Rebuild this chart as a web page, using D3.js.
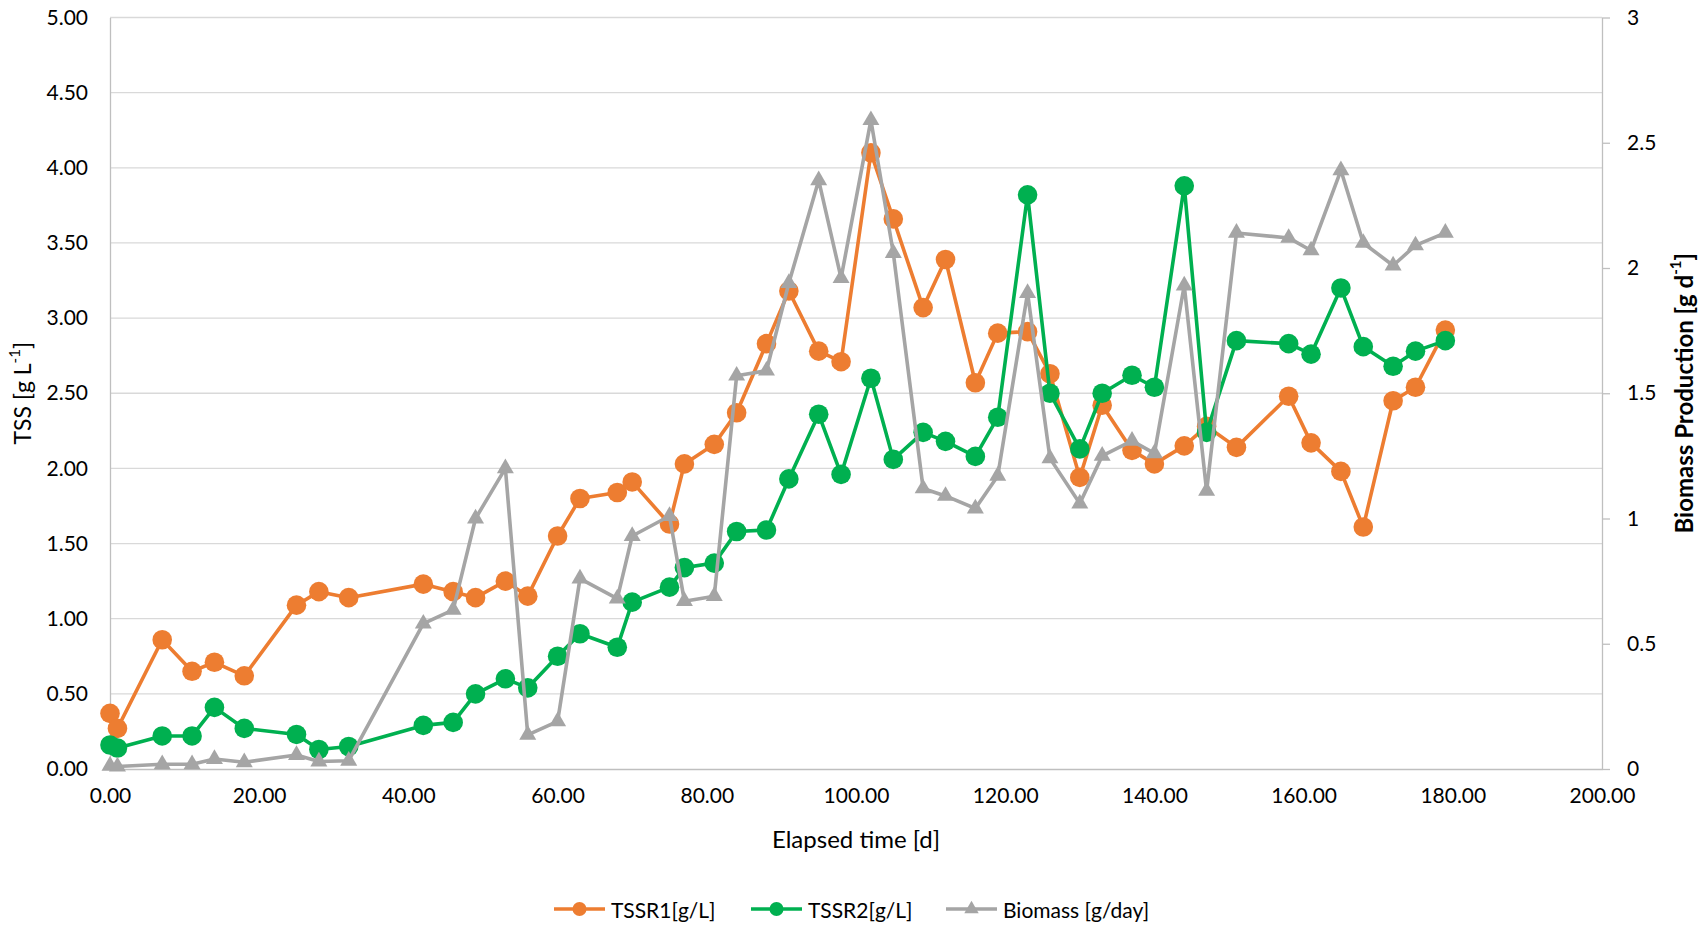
<!DOCTYPE html>
<html>
<head>
<meta charset="utf-8">
<script src="https://cdn.jsdelivr.net/npm/d3@7"></script>
<style>
  html, body { margin: 0; padding: 0; background: #ffffff; }
  svg { display: block; font-family: "Lato", "Liberation Sans", sans-serif; }
</style>
</head>
<body>
<svg id="chart" width="1701" height="925"></svg>
<script>
// ---- data ----
const days = [0,1,7,11,14,18,25,28,32,42,46,49,53,56,60,63,68,70,75,77,81,84,88,91,95,98,102,105,109,112,116,119,123,126,130,133,137,140,144,147,151,158,161,165,168,172,175,179];
const tssR1 = [0.37,0.27,0.86,0.65,0.71,0.62,1.09,1.18,1.14,1.23,1.18,1.14,1.25,1.15,1.55,1.80,1.84,1.91,1.63,2.03,2.16,2.37,2.83,3.18,2.78,2.71,4.10,3.66,3.07,3.39,2.57,2.90,2.91,2.63,1.94,2.42,2.12,2.03,2.15,2.28,2.14,2.48,2.17,1.98,1.61,2.45,2.54,2.92];
const tssR2 = [0.16,0.14,0.22,0.22,0.41,0.27,0.23,0.13,0.15,0.29,0.31,0.50,0.60,0.54,0.75,0.90,0.81,1.11,1.21,1.34,1.37,1.58,1.59,1.93,2.36,1.96,2.60,2.06,2.24,2.18,2.08,2.34,3.82,2.50,2.13,2.50,2.62,2.54,3.88,2.24,2.85,2.83,2.76,3.20,2.81,2.68,2.78,2.85];
const biomass = [0.013,0.01,0.019,0.019,0.04,0.027,0.056,0.03,0.033,0.58,0.635,1.00,1.20,0.136,0.19,0.76,0.68,0.93,1.01,0.67,0.69,1.57,1.59,1.94,2.35,1.96,2.59,2.06,1.12,1.09,1.04,1.17,1.90,1.24,1.06,1.25,1.31,1.26,1.93,1.11,2.14,2.12,2.07,2.39,2.10,2.01,2.09,2.14];

const xTicks = [0,20,40,60,80,100,120,140,160,180,200];
const yLeftTicks = [0,0.5,1,1.5,2,2.5,3,3.5,4,4.5,5];
const yRightTicks = [0,0.5,1,1.5,2,2.5,3];
const seriesNames = ["TSSR1[g/L]", "TSSR2[g/L]", "Biomass [g/day]"];
const seriesColors = ["#ED7D31", "#00B050", "#A5A5A5"];

// ---- layout ----
const svg = d3.select("#chart");
const plot = { left: 110, right: 1602, top: 17.5, bottom: 769 };
const fontSize = 21;
const titleSize = 24;

const x = d3.scaleLinear().domain([0, 200]).range([plot.left, plot.right]);
const yL = d3.scaleLinear().domain([0, 5]).range([plot.bottom, plot.top]);
const yR = d3.scaleLinear().domain([0, 3]).range([plot.bottom, plot.top]);

// gridlines
svg.append("g")
  .selectAll("line")
  .data(yLeftTicks.filter(d => d > 0))
  .join("line")
  .attr("x1", plot.left).attr("x2", plot.right)
  .attr("y1", d => yL(d)).attr("y2", d => yL(d))
  .attr("stroke", "#d9d9d9").attr("stroke-width", 1.3);

// left axis
const gL = svg.append("g").attr("transform", `translate(${plot.left},0)`)
  .call(d3.axisLeft(yL).tickValues(yLeftTicks).tickFormat(d3.format(".2f")).tickSize(0).tickPadding(22));
gL.select(".domain").attr("stroke", "#bfbfbf").attr("stroke-width", 1.3);
gL.selectAll("text").attr("font-size", fontSize).attr("fill", "#000").attr("font-family", "Lato");

// right axis
const gR = svg.append("g").attr("transform", `translate(${plot.right},0)`)
  .call(d3.axisRight(yR).tickValues(yRightTicks).tickFormat(d => String(d)).tickSizeInner(8).tickSizeOuter(0).tickPadding(17));
gR.select(".domain").attr("stroke", "#bfbfbf").attr("stroke-width", 1.3);
gR.selectAll("line").attr("stroke", "#bfbfbf").attr("stroke-width", 1.3);
gR.selectAll("text").attr("font-size", fontSize).attr("fill", "#000").attr("font-family", "Lato");

// bottom axis
const gB = svg.append("g").attr("transform", `translate(0,${plot.bottom})`)
  .call(d3.axisBottom(x).tickValues(xTicks).tickFormat(d3.format(".2f")).tickSize(0).tickPadding(19));
gB.select(".domain").attr("stroke", "#bfbfbf").attr("stroke-width", 1.3);
gB.selectAll("text").attr("font-size", fontSize).attr("fill", "#000").attr("font-family", "Lato");

// axis titles
svg.append("text")
  .attr("x", (plot.left + plot.right) / 2).attr("y", 838)
  .attr("text-anchor", "middle").attr("dominant-baseline", "central")
  .attr("font-size", titleSize).attr("fill", "#000")
  .text("Elapsed time [d]");

const tL = svg.append("text")
  .attr("transform", `translate(22,${(plot.top + plot.bottom) / 2}) rotate(-90)`)
  .attr("text-anchor", "middle").attr("dominant-baseline", "central")
  .attr("font-size", 23).attr("fill", "#000");
tL.append("tspan").text("TSS [g L");
tL.append("tspan").attr("font-size", 15).attr("dy", -8).text("-1");
tL.append("tspan").attr("dy", 8).text("]");

const tR = svg.append("text")
  .attr("transform", `translate(1683,${(plot.top + plot.bottom) / 2}) rotate(-90)`)
  .attr("text-anchor", "middle").attr("dominant-baseline", "central")
  .attr("font-size", titleSize).attr("font-weight", "bold").attr("fill", "#000");
tR.append("tspan").text("Biomass Production [g d");
tR.append("tspan").attr("font-size", 15).attr("dy", -8).text("-1");
tR.append("tspan").attr("dy", 8).text("]");

// ---- series ----
const series = [
  { values: tssR1, y: yL, color: seriesColors[0], marker: "circle" },
  { values: tssR2, y: yL, color: seriesColors[1], marker: "circle" },
  { values: biomass, y: yR, color: seriesColors[2], marker: "triangle" }
];

const tri = d3.symbol().type(d3.symbolTriangle).size(125);

series.forEach(s => {
  const pts = days.map((d, i) => [d, s.values[i]]);
  const g = svg.append("g");
  g.append("path")
    .attr("d", d3.line().x(p => x(p[0])).y(p => s.y(p[1]))(pts))
    .attr("fill", "none").attr("stroke", s.color).attr("stroke-width", 3.6)
    .attr("stroke-linejoin", "round");
  if (s.marker === "circle") {
    g.selectAll("circle").data(pts).join("circle")
      .attr("cx", p => x(p[0])).attr("cy", p => s.y(p[1])).attr("r", 9.8)
      .attr("fill", s.color);
  } else {
    g.selectAll("path.m").data(pts).join("path").attr("class", "m")
      .attr("d", tri)
      .attr("transform", p => `translate(${x(p[0])},${s.y(p[1])})`)
      .attr("fill", s.color);
  }
});

// ---- legend ----
const legendItems = [
  { name: seriesNames[0], color: seriesColors[0], marker: "circle", x0: 554 },
  { name: seriesNames[1], color: seriesColors[1], marker: "circle", x0: 751 },
  { name: seriesNames[2], color: seriesColors[2], marker: "triangle", x0: 946 }
];
const ly = 909;
const lg = svg.append("g");
legendItems.forEach(it => {
  lg.append("line").attr("x1", it.x0).attr("x2", it.x0 + 51).attr("y1", ly).attr("y2", ly)
    .attr("stroke", it.color).attr("stroke-width", 3.6);
  if (it.marker === "circle") {
    lg.append("circle").attr("cx", it.x0 + 25.5).attr("cy", ly).attr("r", 7).attr("fill", it.color);
  } else {
    lg.append("path").attr("d", d3.symbol().type(d3.symbolTriangle).size(90))
      .attr("transform", `translate(${it.x0 + 25.5},${ly})`).attr("fill", it.color);
  }
  lg.append("text").attr("x", it.x0 + 57).attr("y", ly)
    .attr("dominant-baseline", "central").attr("font-size", fontSize).attr("fill", "#000")
    .text(it.name);
});
</script>
</body>
</html>
